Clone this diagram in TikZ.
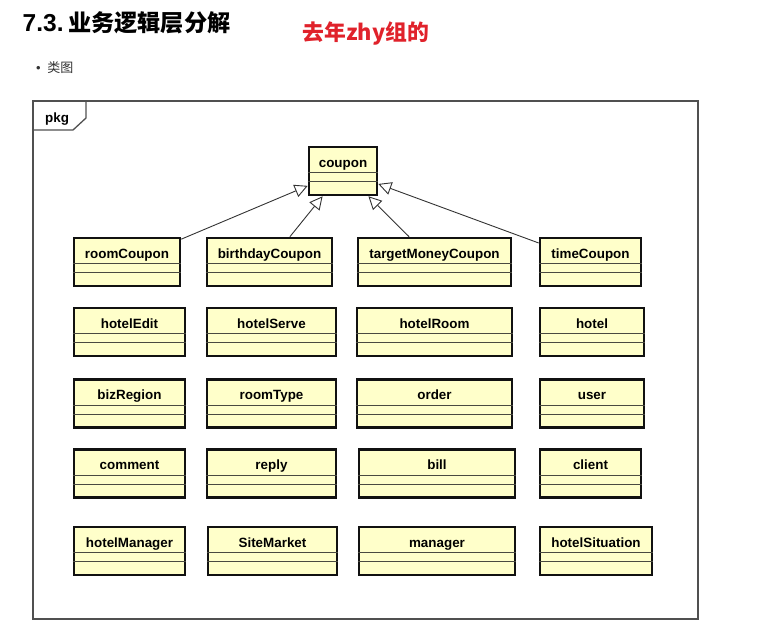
\documentclass[tikz,border=0pt]{standalone}
\usepackage{fontspec}
\setmainfont{Liberation Sans}
\newfontfamily\cjk{Noto Sans CJK SC}
\usepackage{tikz}
\usetikzlibrary{
  arrows.meta,
  calc
}
\definecolor{umlFill}{HTML}{FFFFCA}
\definecolor{umlLine}{HTML}{111111}
\definecolor{umlSep}{HTML}{4A4A40}
\definecolor{umlArrow}{HTML}{333333}
\definecolor{umlFrame}{HTML}{505050}
\definecolor{noteRed}{HTML}{E0222B}
\definecolor{textGray}{HTML}{333333}
\tikzset{
  umlclass/.style={
    draw=umlLine, fill=umlFill, line width=2.6pt, inner sep=0pt,
    minimum height=48pt, text height=9pt, text depth=17pt,
    font=\bfseries\fontsize{13.4}{15}\selectfont
  },
  compsep/.style={line width=1.1pt, draw=umlSep},
  inherit/.style={-{Triangle[open, length=13pt, width=13pt, line width=0.9pt]}, line width=0.9pt, draw=umlArrow},
  pkgframe/.style={line width=1.3pt, draw=umlFrame},
  heading/.style={anchor=base west, inner sep=0pt, font=\bfseries\fontsize{24.5}{28}\selectfont},
  tag/.style={anchor=base west, inner sep=0pt, font=\fontsize{13}{15}\selectfont, text=textGray}
}
\begin{document}
\begin{tikzpicture}[x=1pt, y=-1pt]
  \useasboundingbox (0,0) rectangle (782,634);

  % page heading
  \node[heading] (head) at (22.5,32) {7.3.\hspace{4.5pt}{\cjk\fontsize{23.2}{26}\selectfont 业务逻辑层分解}};
  \node[heading, font=\cjk\bfseries\fontsize{21.8}{25}\selectfont, text=noteRed] (note) at (302.5,41) {去年zhy组的};
  \node[tag] (bullet) at (36,73) {\textbullet\hspace{6.5pt}{\cjk 类图}};

  % package frame
  \draw[pkgframe] (33,101) rectangle (698,619);
  \draw[pkgframe] (33,130) -- (73,130) -- (86,118) -- (86,101);
  \node[anchor=base west, inner sep=0pt, font=\bfseries\fontsize{13.4}{15}\selectfont] (pkg) at (45,122) {pkg};

  % classes
  \node[umlclass, minimum width=68pt] (coupon) at (343,171) {coupon};

  \node[umlclass, minimum width=106pt] (roomCoupon) at (127,262) {roomCoupon};
  \node[umlclass, minimum width=125pt] (birthdayCoupon) at (269.5,262) {birthdayCoupon};
  \node[umlclass, minimum width=153pt] (targetMoneyCoupon) at (434.5,262) {targetMoneyCoupon};
  \node[umlclass, minimum width=101pt] (timeCoupon) at (590.5,262) {timeCoupon};

  \node[umlclass, minimum width=111pt] (hotelEdit) at (129.5,332) {hotelEdit};
  \node[umlclass, minimum width=129pt] (hotelServe) at (271.5,332) {hotelServe};
  \node[umlclass, minimum width=155pt] (hotelRoom) at (434.5,332) {hotelRoom};
  \node[umlclass, minimum width=104pt] (hotel) at (592,332) {hotel};

  \node[umlclass, minimum width=111pt] (bizRegion) at (129.5,403.5) {bizRegion};
  \node[umlclass, minimum width=129pt] (roomType) at (271.5,403.5) {roomType};
  \node[umlclass, minimum width=155pt] (order) at (434.5,403.5) {order};
  \node[umlclass, minimum width=104pt] (user) at (592,403.5) {user};

  \node[umlclass, minimum width=111pt] (comment) at (129.5,473.5) {comment};
  \node[umlclass, minimum width=129pt] (reply) at (271.5,473.5) {reply};
  \node[umlclass, minimum width=156pt] (bill) at (437,473.5) {bill};
  \node[umlclass, minimum width=101pt] (client) at (590.5,473.5) {client};

  \node[umlclass, minimum width=111pt] (hotelManager) at (129.5,551) {hotelManager};
  \node[umlclass, minimum width=129pt] (SiteMarket) at (272.5,551) {SiteMarket};
  \node[umlclass, minimum width=156pt] (manager) at (437,551) {manager};
  \node[umlclass, minimum width=112pt] (hotelSituation) at (596,551) {hotelSituation};

  % attribute / operation compartments
  \foreach \c in {coupon, roomCoupon, birthdayCoupon, targetMoneyCoupon, timeCoupon,
                  hotelEdit, hotelServe, hotelRoom, hotel,
                  bizRegion, roomType, order, user,
                  comment, reply, bill, client,
                  hotelManager, SiteMarket, manager, hotelSituation} {
    \draw[compsep] ($(\c.north west)+(0,27)$) -- ($(\c.north east)+(0,27)$);
    \draw[compsep] ($(\c.north west)+(0,36)$) -- ($(\c.north east)+(0,36)$);
  }

  % generalisations
  \draw[inherit] (roomCoupon) -- (coupon);
  \draw[inherit] (birthdayCoupon) -- (coupon);
  \draw[inherit] (targetMoneyCoupon) -- (coupon);
  \draw[inherit] (timeCoupon) -- (coupon);
\end{tikzpicture}
\end{document}
